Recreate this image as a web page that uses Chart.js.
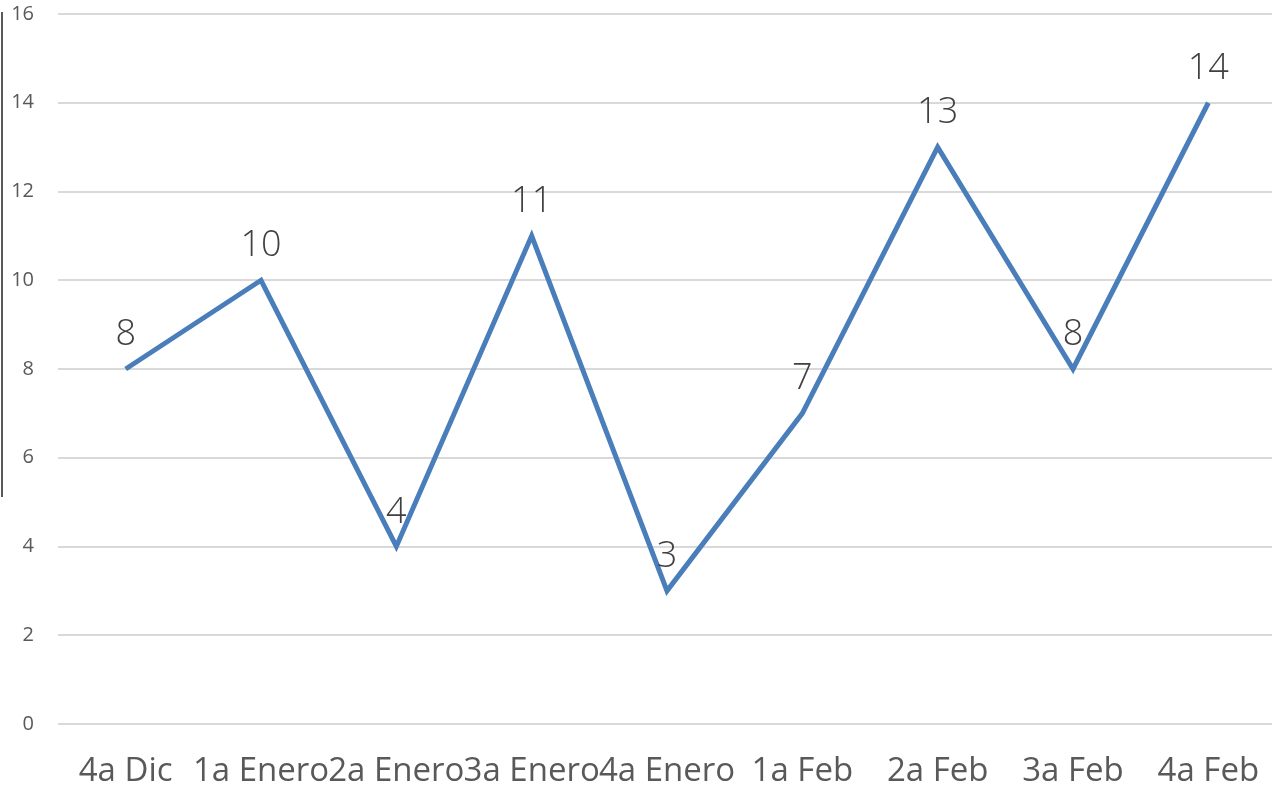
<!DOCTYPE html>
<html>
<head>
<meta charset="utf-8">
<script src="https://cdn.jsdelivr.net/npm/chart.js@4"></script>
<style>
  html, body { margin: 0; padding: 0; background: #fff; overflow: hidden; }
  #wrap { position: relative; width: 1276px; height: 790px; }
  #edge { position: absolute; left: 1px; top: 12px; width: 2px; height: 485px; background: #5a5a5a; }
</style>
</head>
<body>
<div id="wrap">
  <canvas id="chart" width="1276" height="790"></canvas>
  <div id="edge"></div>
</div>
<script>
// ===== Data =====
const weeks = ['4a Dic', '1a Enero', '2a Enero', '3a Enero', '4a Enero', '1a Feb', '2a Feb', '3a Feb', '4a Feb'];
const values = [8, 10, 4, 11, 3, 7, 13, 8, 14];
const yTicks = [0, 2, 4, 6, 8, 10, 12, 14, 16];

// draw value labels above each point
const valueLabels = {
  id: 'valueLabels',
  afterDatasetsDraw(chart) {
    const ctx = chart.ctx;
    const meta = chart.getDatasetMeta(0);
    ctx.save();
    ctx.font = '300 36px "Open Sans"';
    ctx.fillStyle = '#404040';
    ctx.textAlign = 'center';
    ctx.textBaseline = 'alphabetic';
    meta.data.forEach((pt, i) => {
      ctx.fillText(String(values[i]), pt.x, pt.y - 24);
    });
    ctx.restore();
  }
};

// no extra padding from label overflow
function noPad(scale) {
  scale.paddingTop = 0;
  scale.paddingBottom = 0;
  scale.paddingLeft = 0;
  scale.paddingRight = 0;
}

new Chart(document.getElementById('chart'), {
  type: 'line',
  data: {
    labels: weeks,
    datasets: [{
      data: values,
      borderColor: '#4a7ebb',
      borderWidth: 5,
      tension: 0,
      pointRadius: 0,
      fill: false
    }]
  },
  options: {
    responsive: false,
    animation: false,
    layout: { padding: { top: 14, right: 0, left: 0, bottom: 0 } },
    plugins: { legend: { display: false }, tooltip: { enabled: false } },
    scales: {
      x: {
        offset: true,
        grid: { display: false, drawTicks: false },
        border: { display: false },
        ticks: {
          autoSkip: false,
          maxRotation: 0,
          minRotation: 0,
          padding: 28,
          color: '#595959',
          font: { family: '"Open Sans"', size: 33 }
        },
        afterFit(scale) { scale.height = 66; noPad(scale); }
      },
      y: {
        min: 0,
        max: 16,
        afterBuildTicks(scale) { scale.ticks = yTicks.map(v => ({ value: v })); },
        grid: { color: '#d9d9d9', lineWidth: 2, drawTicks: false },
        border: { display: false },
        ticks: {
          padding: 24,
          color: '#595959',
          font: { family: '"Open Sans"', size: 20 }
        },
        afterFit(scale) { scale.width = 58; noPad(scale); }
      }
    }
  },
  plugins: [valueLabels]
});
</script>
</body>
</html>
